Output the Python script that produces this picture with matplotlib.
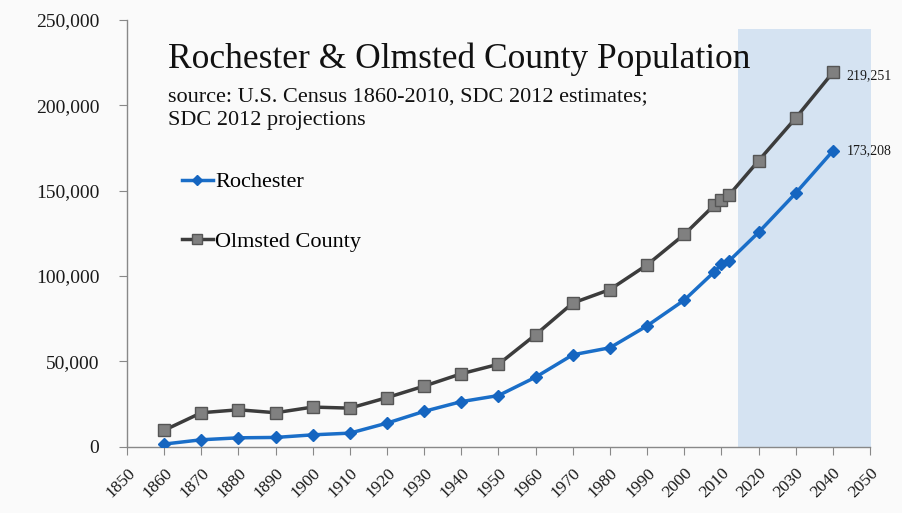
import matplotlib.pyplot as plt

years = [1860, 1870, 1880, 1890, 1900, 1910, 1920, 1930, 1940, 1950, 1960,
         1970, 1980, 1990, 2000, 2008, 2010, 2012, 2020, 2030, 2040]
rochester = [1424, 3953, 5103, 5321, 6843, 7844, 13722, 20621, 26312, 29885, 40663,
             53766, 57890, 70745, 85806, 102200, 106769, 108600, 125500, 148500, 173208]
olmsted = [9524, 19793, 21543, 19806, 23119, 22497, 28667, 35426, 42658, 48228, 65532,
           84104, 92006, 106470, 124277, 141300, 144248, 147200, 167500, 192500, 219251]
xticks = list(range(1850, 2051, 10))
yticks = [0, 50000, 100000, 150000, 200000, 250000]
proj_start, proj_end, proj_top = 2014.5, 2050.5, 245000

plt.rcParams['font.family'] = ['Liberation Serif', 'DejaVu Serif']

bg = '#fafafa'
fig = plt.figure(figsize=(9.02, 5.13), dpi=100, facecolor=bg)
ax = fig.add_axes([0.1408, 0.1296, 0.8237, 0.8314], facecolor=bg)

# projection period shading
ax.fill_between([proj_start, proj_end], 0, proj_top, color='#d5e3f2', lw=0, zorder=0)

ax.plot(years, rochester, color='#1a6ec8', lw=2.5, marker='D', ms=6,
        mfc='#1565c0', mec='#1565c0', label='Rochester', zorder=3)
ax.plot(years, olmsted, color='#3c3c3c', lw=2.5, marker='s', ms=9,
        mfc='#808080', mec='#555555', mew=1, label='Olmsted County', zorder=3)

ax.annotate(f"{olmsted[-1]:,}", (years[-1], olmsted[-1]), xytext=(10, -2),
            textcoords='offset points', va='center', fontsize=10, color='#1a1a1a')
ax.annotate(f"{rochester[-1]:,}", (years[-1], rochester[-1]), xytext=(10, 0),
            textcoords='offset points', va='center', fontsize=10, color='#1a1a1a')

ax.set_xlim(1850, 2050)
ax.set_ylim(0, 250000)
ax.set_xticks(xticks)
ax.set_xticklabels([str(x) for x in xticks], rotation=45, ha='right',
                   rotation_mode='anchor', fontsize=12.5)
ax.set_yticks(yticks)
ax.set_yticklabels([f"{v:,}" for v in yticks], fontsize=14)
ax.tick_params(axis='both', direction='out', length=6, color='#888888', colors='#1a1a1a')
ax.tick_params(axis='y', pad=14)
ax.tick_params(axis='x', pad=7)
for s in ['top', 'right']:
    ax.spines[s].set_visible(False)
for s in ['left', 'bottom']:
    ax.spines[s].set_color('#888888')
    ax.spines[s].set_linewidth(1)

fig.text(168 / 902, 1 - 68 / 513, "Rochester & Olmsted County Population",
         fontsize=25.5, color='#111111', va='baseline')
fig.text(168 / 902, 1 - 101 / 513, "source: U.S. Census 1860-2010, SDC 2012 estimates;",
         fontsize=16, color='#111111', va='baseline')
fig.text(168 / 902, 1 - 125 / 513, "SDC 2012 projections",
         fontsize=16, color='#111111', va='baseline')

ax.legend(loc='center left', bbox_to_anchor=(0.047, 0.55), frameon=False, fontsize=16,
          labelspacing=1.75, handlelength=1.4, handletextpad=0.1, markerscale=0.8)

fig.savefig('out.png', dpi=100, facecolor=bg)
